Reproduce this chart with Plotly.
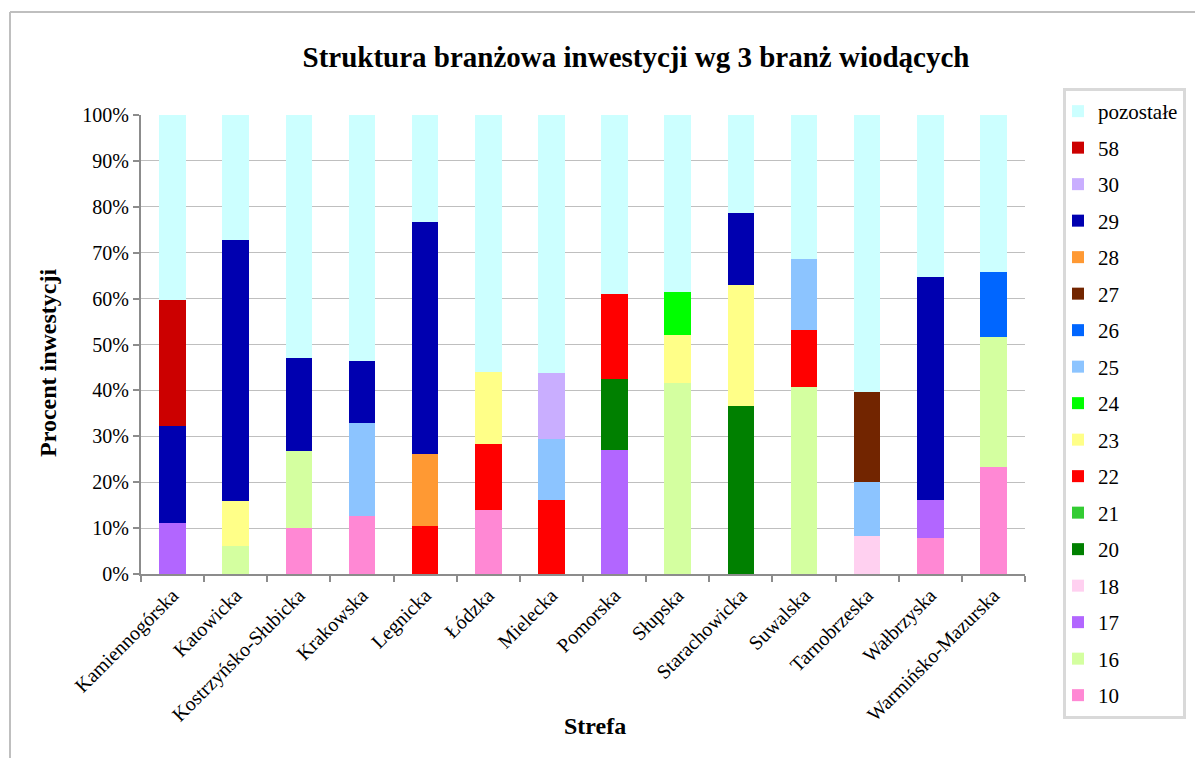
import plotly.graph_objects as go

categories = ["Kamiennogórska", "Katowicka", "Kostrzyńsko-Słubicka", "Krakowska", "Legnicka",
              "Łódzka", "Mielecka", "Pomorska", "Słupska", "Starachowicka", "Suwalska",
              "Tarnobrzeska", "Wałbrzyska", "Warmińsko-Mazurska"]

s10 = [0, 0, 10.0, 12.6, 0, 14.0, 0, 0, 0, 0, 0, 0, 7.8, 23.3]
s16 = [0, 6.0, 16.9, 0, 0, 0, 0, 0, 41.6, 0, 40.7, 0, 0, 28.3]
s17 = [11.2, 0, 0, 0, 0, 0, 0, 27.0, 0, 0, 0, 0, 8.3, 0]
s18 = [0, 0, 0, 0, 0, 0, 0, 0, 0, 0, 0, 8.2, 0, 0]
s20 = [0, 0, 0, 0, 0, 0, 0, 15.4, 0, 36.5, 0, 0, 0, 0]
s21 = [0, 0, 0, 0, 0, 0, 0, 0, 0, 0, 0, 0, 0, 0]
s22 = [0, 0, 0, 0, 10.4, 14.4, 16.2, 18.7, 0, 0, 12.5, 0, 0, 0]
s23 = [0, 10.0, 0, 0, 0, 15.7, 0, 0, 10.4, 26.4, 0, 0, 0, 0]
s24 = [0, 0, 0, 0, 0, 0, 0, 0, 9.5, 0, 0, 0, 0, 0]
s25 = [0, 0, 0, 20.3, 0, 0, 13.2, 0, 0, 0, 15.4, 11.8, 0, 0]
s26 = [0, 0, 0, 0, 0, 0, 0, 0, 0, 0, 0, 0, 0, 14.1]
s27 = [0, 0, 0, 0, 0, 0, 0, 0, 0, 0, 0, 19.6, 0, 0]
s28 = [0, 0, 0, 0, 15.7, 0, 0, 0, 0, 0, 0, 0, 0, 0]
s29 = [21.1, 56.7, 20.1, 13.5, 50.5, 0, 0, 0, 0, 15.8, 0, 0, 48.6, 0]
s30 = [0, 0, 0, 0, 0, 0, 14.4, 0, 0, 0, 0, 0, 0, 0]
s58 = [27.3, 0, 0, 0, 0, 0, 0, 0, 0, 0, 0, 0, 0, 0]
pozostale = [40.4, 27.3, 53.0, 53.6, 23.4, 55.9, 56.2, 38.9, 38.5, 21.3, 31.4, 60.4, 35.3, 34.3]

series = [
    ("10", s10, "#FF88D4"),
    ("16", s16, "#D4FFA0"),
    ("17", s17, "#B266FF"),
    ("18", s18, "#FFD0F0"),
    ("20", s20, "#008000"),
    ("21", s21, "#33CC33"),
    ("22", s22, "#FF0000"),
    ("23", s23, "#FFFF88"),
    ("24", s24, "#00FF00"),
    ("25", s25, "#8CC4FF"),
    ("26", s26, "#0066FF"),
    ("27", s27, "#722500"),
    ("28", s28, "#FF9933"),
    ("29", s29, "#0000B0"),
    ("30", s30, "#C9AEFF"),
    ("58", s58, "#CC0000"),
    ("pozostałe", pozostale, "#CCFFFF"),
]

FONT = "Liberation Serif"

fig = go.Figure()
n = len(series)
for i, (name, vals, color) in enumerate(series):
    fig.add_trace(go.Bar(
        x=categories, y=vals, name=name, legendgroup=name,
        legendrank=n - i,
        marker=dict(color=color, line=dict(width=0)),
        width=0.42,
    ))

# page offset (body margin) of 8 px
OFF = 8
W, H = 1203 - OFF, 758 - OFF
L, R, T, B = 141 - OFF, 1025 - OFF, 115 - OFF, 574 - OFF
pw, ph = R - L, B - T

def px_x(x):
    return (x - OFF - L) / pw

def px_y(y):
    return (B - (y - OFF)) / ph

fig.update_layout(
    width=W, height=H,
    barmode="stack",
    plot_bgcolor="white", paper_bgcolor="white",
    margin=dict(l=L, r=W - R, t=T, b=H - B, autoexpand=False),
    font=dict(family=FONT, size=20, color="black"),
    title=dict(text="<b>Struktura branżowa inwestycji wg 3 branż wiodących</b>",
               x=px_x(636), xref="paper", xanchor="center",
               y=1 - (57 - OFF) / H, yanchor="middle",
               font=dict(family=FONT, size=29, color="black")),
    legend=dict(
        x=px_x(1063), y=px_y(88), xanchor="left", yanchor="top",
        traceorder="grouped", tracegroupgap=6.2,
        bordercolor="#D9D9D9", borderwidth=3, bgcolor="white",
        font=dict(family=FONT, size=21, color="black"),
        itemwidth=30, maxheight=720, indentation=-8,
    ),
    xaxis=dict(
        type="category", tickangle=-45, showgrid=False,
        showline=True, linecolor="#8C8C8C", linewidth=2,
        ticks="outside", tickson="boundaries", ticklen=6, tickcolor="#8C8C8C", tickwidth=2,
        tickfont=dict(family=FONT, size=20, color="black"),
    ),
    yaxis=dict(
        range=[0, 100], dtick=10, ticksuffix="%",
        showgrid=True, gridcolor="#BFBFBF", gridwidth=1,
        showline=True, linecolor="#8C8C8C", linewidth=2,
        ticks="outside", ticklen=6, tickcolor="#8C8C8C", tickwidth=2,
        tickfont=dict(family=FONT, size=20, color="black"),
        zeroline=False,
    ),
    bargap=0.58,
)

fig.add_annotation(text="<b>Strefa</b>", xref="paper", yref="paper",
                   x=px_x(595), y=px_y(726), xanchor="center", yanchor="middle",
                   showarrow=False, font=dict(family=FONT, size=24, color="black"))
fig.add_annotation(text="<b>Procent inwestycji</b>", xref="paper", yref="paper",
                   x=px_x(48), y=px_y(363), xanchor="center", yanchor="middle",
                   textangle=-90,
                   showarrow=False, font=dict(family=FONT, size=24, color="black"))

# outer chart border (top and left edges visible)
fig.add_shape(type="line", xref="paper", yref="paper",
              x0=px_x(10), x1=px_x(1215), y0=px_y(12), y1=px_y(12),
              line=dict(color="#BFBFBF", width=2))
fig.add_shape(type="line", xref="paper", yref="paper",
              x0=px_x(10), x1=px_x(10), y0=px_y(12), y1=px_y(775),
              line=dict(color="#BFBFBF", width=2))

fig.write_html("out.html")
